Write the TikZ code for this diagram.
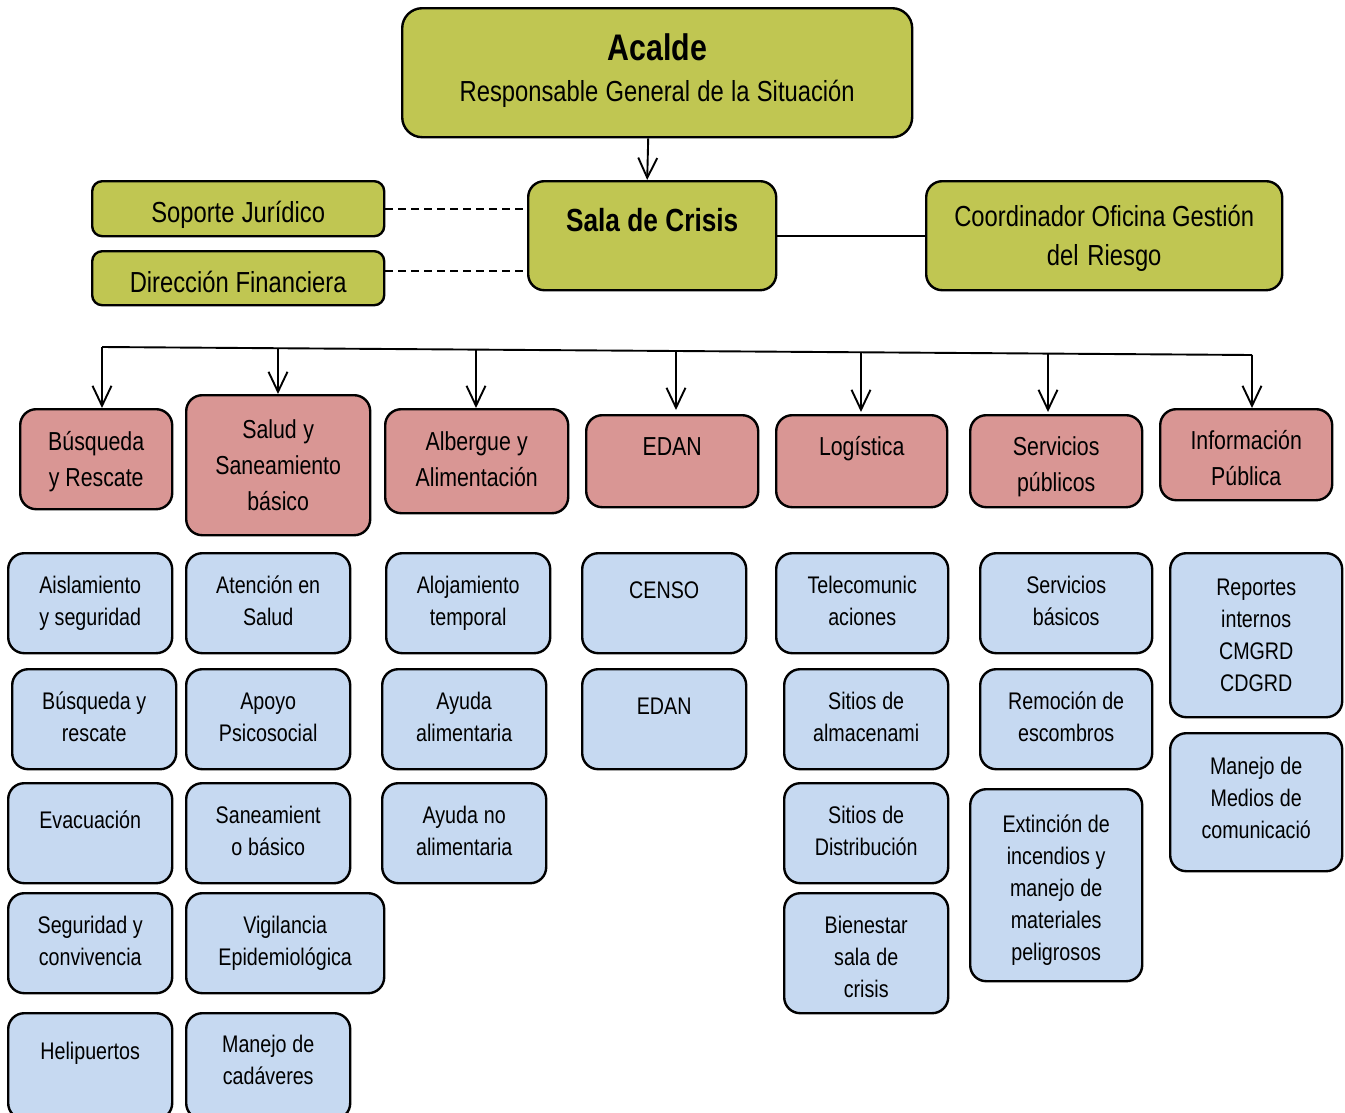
\documentclass[tikz,border=0pt]{standalone}
\usepackage{fontspec}
\setmainfont{Liberation Sans}[FakeStretch=0.82]
\usetikzlibrary{arrows.meta}

\begin{document}
\begin{tikzpicture}[
    x=1pt, y=-1pt,
    box/.style={draw=black, line width=2.4pt, rounded corners=16pt, align=center, inner sep=0pt, anchor=north west,
        execute at begin node={\spaceskip=0.2em plus 0.05em\relax}},
    box size/.style n args={3}{text width=#1pt, text height=#3pt, text depth=#2pt-#3pt},
    head box/.style={box, fill=headfill, font=\fontsize{29}{39}\selectfont},
    area box/.style={box, fill=areafill, font=\fontsize{26}{36}\selectfont},
    task box/.style={box, fill=taskfill, font=\fontsize{24}{32}\selectfont},
    link/.style={line width=1.6pt},
    feed/.style={line width=1.9pt, -{Straight Barb[length=20pt, width=19pt]}}
]
\definecolor{headfill}{RGB}{192,198,82}   % Olive
\definecolor{areafill}{RGB}{217,150,148}  % Pink
\definecolor{taskfill}{RGB}{198,217,241}  % Light blue

\useasboundingbox (0,0) rectangle (1345,1112);

% Top level
\node[head box, box size={510}{129}{52}, rounded corners=20pt, font=\fontsize{29}{41.5}\selectfont] (alcalde) at (401,7)
{{\fontsize{37}{40}\selectfont\bfseries Acalde}\\Responsable General de la Situación};
\node[head box, box size={248}{109}{50}, font=\fontsize{32}{38}\selectfont\bfseries] (sala) at (527,180) {Sala de Crisis};
\node[head box, box size={292}{55}{41}, rounded corners=10pt] (soporte) at (91,180) {Soporte Jurídico};
\node[head box, box size={292}{54}{41}, rounded corners=10pt] (finanzas) at (91,250) {Dirección Financiera};
\node[head box, box size={356}{109}{45}] (coordinador) at (925,180) {Coordinador Oficina Gestión\\del Riesgo};

\draw[feed] ([xshift=-9pt]alcalde.south) -- ([xshift=-5pt]sala.north);
\draw[link, dash pattern=on 8pt off 5pt] (soporte.east) -- (soporte.east -| sala.west);
\draw[link, dash pattern=on 8pt off 5pt] ([yshift=7pt]finanzas.east) -- ([yshift=7pt]finanzas.east -| sala.west);
\draw[link] (sala.east) -- (coordinador.west);

% Areas
\node[area box, box size={152}{100}{41}] (busqueda) at (19,408) {Búsqueda\\y Rescate};
\node[area box, box size={184}{140}{43}] (salud) at (185,394) {Salud y\\Saneamiento\\básico};
\node[area box, box size={183}{104}{41}] (albergue) at (384,408) {Albergue y\\Alimentación};
\node[area box, box size={172}{92}{40}] (edan) at (585,414) {EDAN};
\node[area box, box size={171}{92}{40}] (logistica) at (775,414) {Logística};
\node[area box, box size={172}{92}{40}] (servicios) at (969,414) {Servicios\\públicos};
\node[area box, box size={172}{91}{40}] (informacion) at (1159,408) {Información\\Pública};

% Distribution bar
\coordinate (bus1) at (102,347);
\coordinate (bus2) at (278,348.2);
\coordinate (bus3) at (476,349.6);
\coordinate (bus4) at (676,351);
\coordinate (bus5) at (861,352.3);
\coordinate (bus6) at (1048,353.6);
\coordinate (bus7) at (1252,355);
\draw[line width=1.9pt] (bus1) -- (bus7);
\draw[feed] (bus1) -- (bus1 |- busqueda.north);
\draw[feed] (bus2) -- (bus2 |- salud.north);
\draw[feed] (bus3) -- (bus3 |- albergue.north);
\draw[feed] (bus4) -- ([yshift=4pt]bus4 |- edan.north);
\draw[feed] (bus5) -- ([yshift=2pt]bus5 |- logistica.north);
\draw[feed] (bus6) -- ([yshift=2pt]bus6 |- servicios.north);
\draw[feed] (bus7) -- (bus7 |- informacion.north);

% Busqueda y Rescate
\node[task box, box size={164}{100}{40}] (aislamiento) at (7,552) {Aislamiento\\y seguridad};
\node[task box, box size={164}{100}{40}] (rescate) at (11,668) {Búsqueda y\\rescate};
\node[task box, box size={164}{100}{45}] (evacuacion) at (7,782) {Evacuación};
\node[task box, box size={164}{100}{40}] (convivencia) at (7,892) {Seguridad y\\convivencia};
\node[task box, box size={164}{106}{46}] (helipuertos) at (7,1012) {Helipuertos};

% Salud
\node[task box, box size={164}{100}{40}] (atencion) at (185,552) {Atención en\\Salud};
\node[task box, box size={164}{100}{40}] (psicosocial) at (185,668) {Apoyo\\Psicosocial};
\node[task box, box size={164}{100}{40}] (saneamiento) at (185,782) {Saneamient\\o básico};
\node[task box, box size={198}{100}{40}] (vigilancia) at (185,892) {Vigilancia\\Epidemiológica};
\node[task box, box size={164}{106}{39}] (cadaveres) at (185,1012) {Manejo de\\cadáveres};

% Albergue
\node[task box, box size={164}{100}{40}] (alojamiento) at (385,552) {Alojamiento\\temporal};
\node[task box, box size={164}{100}{40}] (alimentaria) at (381,668) {Ayuda\\alimentaria};
\node[task box, box size={164}{100}{40}] (noalimentaria) at (381,782) {Ayuda no\\alimentaria};

% EDAN
\node[task box, box size={164}{100}{45}] (censo) at (581,552) {CENSO};
\node[task box, box size={164}{100}{45}] (evaluacion) at (581,668) {EDAN};

% Logistica
\node[task box, box size={172}{100}{40}] (telecom) at (775,552) {Telecomunic\\aciones};
\node[task box, box size={164}{100}{40}] (almacen) at (783,668) {Sitios de\\almacenami};
\node[task box, box size={164}{100}{40}] (distribucion) at (783,782) {Sitios de\\Distribución};
\node[task box, box size={164}{120}{40}] (bienestar) at (783,892) {Bienestar\\sala de\\crisis};

% Servicios publicos
\node[task box, box size={172}{100}{40}] (basicos) at (979,552) {Servicios\\básicos};
\node[task box, box size={172}{100}{40}] (escombros) at (979,668) {Remoción de\\escombros};
\node[task box, box size={172}{192}{43}] (incendios) at (969,788) {Extinción de\\incendios y\\manejo de\\materiales\\peligrosos};

% Informacion publica
\node[task box, box size={172}{164}{42}] (reportes) at (1169,552) {Reportes\\internos\\CMGRD\\CDGRD};
\node[task box, box size={172}{138}{41}] (medios) at (1169,732) {Manejo de\\Medios de\\comunicació};

\end{tikzpicture}
\end{document}
